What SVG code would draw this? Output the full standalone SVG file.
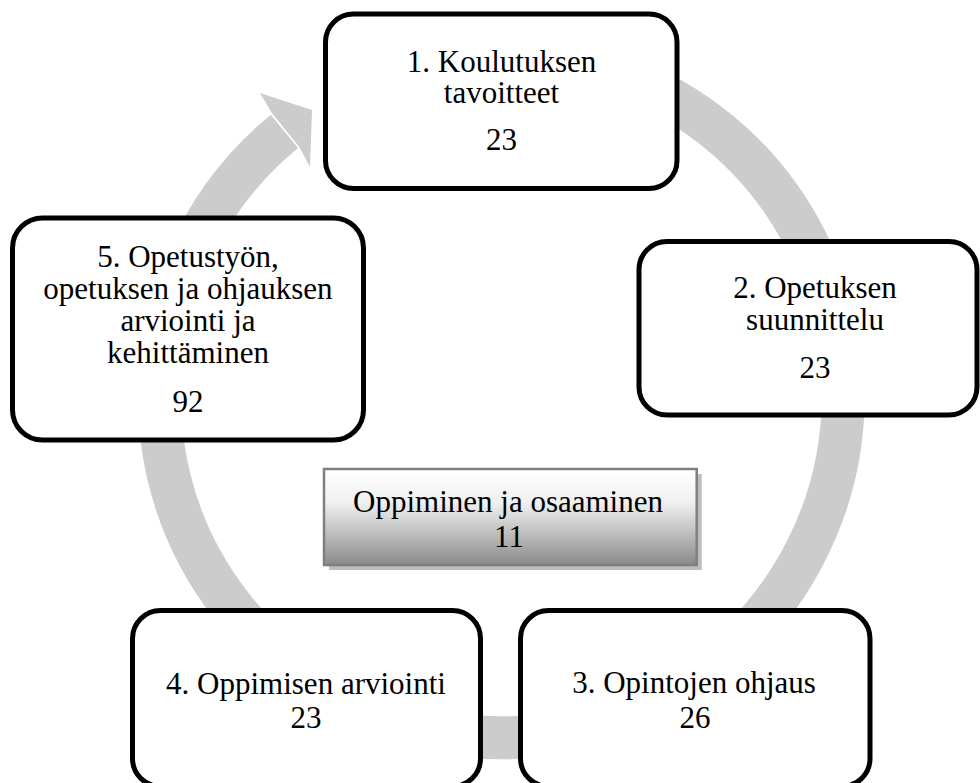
<svg xmlns="http://www.w3.org/2000/svg" width="980" height="783" viewBox="0 0 980 783">
<defs>
<style>
.node{fill:#ffffff;stroke:#000000;stroke-width:5}
.t{font-family:"Liberation Serif","Times New Roman",serif;font-size:31px;fill:#000000;text-anchor:middle}
.ring{fill:none;stroke:#cccccc;stroke-width:43}
</style>
<linearGradient id="cg" x1="0" y1="0" x2="0" y2="1">
<stop offset="0" stop-color="#ffffff"/>
<stop offset="0.35" stop-color="#f0f0f0"/>
<stop offset="1" stop-color="#8a8a8a"/>
</linearGradient>
</defs>
<rect width="980" height="783" fill="#ffffff"/>
<g id="connectors">
<path class="ring" d="M 356.5 86 A 342 342 0 1 1 284.4 131.4"/>
<polygon points="272.2,113.5 260,93 312,110 310,167 299.3,146.9" fill="#cccccc"/>
</g>
<g id="center">
<rect x="329" y="474" width="372.7" height="96" fill="#bdbdbd"/>
<rect x="324" y="469" width="372.7" height="96" fill="url(#cg)" stroke="#7f7f7f" stroke-width="2.5"/>
<text class="t" x="508" y="511.7">Oppiminen ja osaaminen</text>
<text class="t" x="509" y="546.7">11</text>
</g>
<g id="node1">
<rect class="node" x="325.5" y="14" width="351.5" height="174.5" rx="28"/>
<text class="t" x="501.5" y="71.7">1. Koulutuksen</text>
<text class="t" x="501.5" y="103.3">tavoitteet</text>
<text class="t" x="501.5" y="150">23</text>
</g>
<g id="node2">
<rect class="node" x="639" y="241.5" width="338" height="173.5" rx="28"/>
<text class="t" x="815" y="298.3">2. Opetuksen</text>
<text class="t" x="815" y="330">suunnittelu</text>
<text class="t" x="815" y="378.3">23</text>
</g>
<g id="node3">
<rect class="node" x="520.5" y="610.5" width="349.5" height="176" rx="28"/>
<text class="t" x="694" y="693.3">3. Opintojen ohjaus</text>
<text class="t" x="695" y="728.3">26</text>
</g>
<g id="node4">
<rect class="node" x="132.5" y="610.5" width="348" height="176" rx="28"/>
<text class="t" x="306" y="694.3">4. Oppimisen arviointi</text>
<text class="t" x="306" y="728.3">23</text>
</g>
<g id="node5">
<rect class="node" x="12.5" y="218" width="351" height="222" rx="30"/>
<text class="t" x="188" y="266.7">5. Opetustyön,</text>
<text class="t" x="188" y="298.7">opetuksen ja ohjauksen</text>
<text class="t" x="188" y="330.7">arviointi ja</text>
<text class="t" x="188" y="362.7">kehittäminen</text>
<text class="t" x="188" y="411.7">92</text>
</g>
</svg>
